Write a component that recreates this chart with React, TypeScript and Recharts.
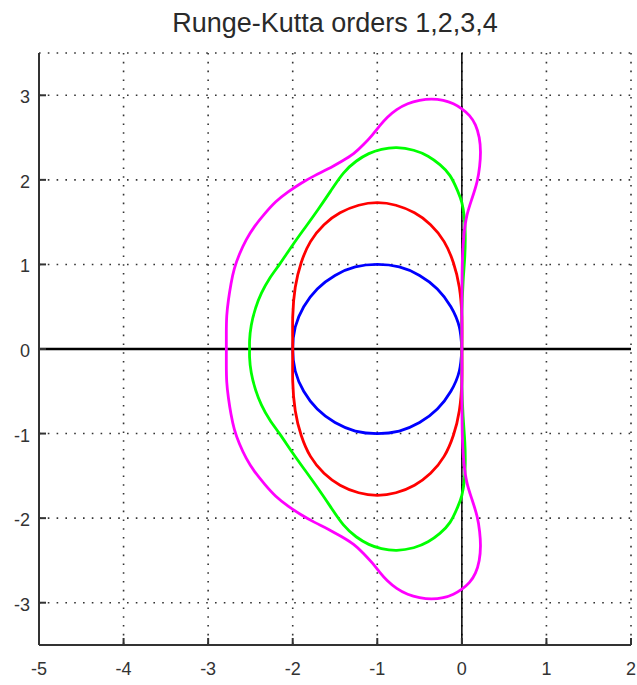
import { LineChart, Line, XAxis, YAxis, CartesianGrid, ReferenceLine } from "recharts";

const TITLE = "Runge-Kutta orders 1,2,3,4";

const X_TICKS = [-5, -4, -3, -2, -1, 0, 1, 2];
const Y_TICKS = [-3, -2, -1, 0, 1, 2, 3];

const ORDER1: [number, number][] = [
  [0, 0], [-0.03, 0.26], [-0.13, 0.5], [-0.29, 0.71], [-0.5, 0.87], [-0.74, 0.97], [-1, 1],
  [-1.26, 0.97], [-1.5, 0.87], [-1.71, 0.71], [-1.87, 0.5], [-1.97, 0.26], [-2, 0],
  [-1.97, -0.26], [-1.87, -0.5], [-1.71, -0.71], [-1.5, -0.87], [-1.26, -0.97], [-1, -1],
  [-0.74, -0.97], [-0.5, -0.87], [-0.29, -0.71], [-0.13, -0.5], [-0.03, -0.26], [0, 0],
];

const ORDER2: [number, number][] = [
  [0, 0], [0, 0.38], [-0.03, 0.73], [-0.1, 1.02], [-0.21, 1.27], [-0.37, 1.47], [-0.56, 1.61],
  [-0.78, 1.7], [-1, 1.73], [-1.22, 1.7], [-1.44, 1.61], [-1.63, 1.47], [-1.79, 1.27],
  [-1.9, 1.02], [-1.97, 0.73], [-2, 0.38], [-2, 0], [-2, -0.38], [-1.97, -0.73], [-1.9, -1.02],
  [-1.79, -1.27], [-1.63, -1.47], [-1.44, -1.61], [-1.22, -1.7], [-1, -1.73], [-0.78, -1.7],
  [-0.56, -1.61], [-0.37, -1.47], [-0.21, -1.27], [-0.1, -1.02], [-0.03, -0.73], [0, -0.38], [0, 0],
];

const ORDER3: [number, number][] = [
  [0, 0], [0, 0.4], [0.015, 0.8], [0.035, 1.1], [0.04, 1.35], [0.03, 1.55], [0, 1.73],
  [-0.05, 1.87], [-0.14, 2.05], [-0.26, 2.18], [-0.4, 2.28], [-0.57, 2.35], [-0.77, 2.38],
  [-0.95, 2.36], [-1.1, 2.31], [-1.25, 2.22], [-1.4, 2.08], [-1.55, 1.87], [-1.7, 1.65],
  [-1.85, 1.44], [-2, 1.23], [-2.15, 1.01], [-2.27, 0.84], [-2.37, 0.66], [-2.44, 0.48],
  [-2.49, 0.28], [-2.51, 0.1], [-2.51, 0],
  [-2.51, -0.1], [-2.49, -0.28], [-2.44, -0.48], [-2.37, -0.66], [-2.27, -0.84], [-2.15, -1.01],
  [-2, -1.23], [-1.85, -1.44], [-1.7, -1.65], [-1.55, -1.87], [-1.4, -2.08], [-1.25, -2.22],
  [-1.1, -2.31], [-0.95, -2.36], [-0.77, -2.38], [-0.57, -2.35], [-0.4, -2.28], [-0.26, -2.18],
  [-0.14, -2.05], [-0.05, -1.87], [0, -1.73], [0.03, -1.55], [0.04, -1.35], [0.035, -1.1],
  [0.015, -0.8], [0, -0.4], [0, 0],
];

const ORDER4: [number, number][] = [
  [0, 0], [0, 0.4], [0.002, 0.8], [0.008, 1.1], [0.025, 1.35], [0.06, 1.58], [0.12, 1.78],
  [0.18, 1.98], [0.21, 2.16], [0.22, 2.33], [0.205, 2.5], [0.16, 2.65], [0.09, 2.76], [0, 2.84],
  [-0.1, 2.9], [-0.22, 2.94], [-0.36, 2.955], [-0.5, 2.94], [-0.64, 2.9], [-0.77, 2.83],
  [-0.88, 2.74], [-0.97, 2.64], [-1.06, 2.53], [-1.16, 2.42], [-1.28, 2.31], [-1.42, 2.22],
  [-1.58, 2.13], [-1.74, 2.05], [-1.9, 1.96], [-2.05, 1.86], [-2.2, 1.74], [-2.33, 1.6],
  [-2.45, 1.45], [-2.55, 1.29], [-2.63, 1.12], [-2.69, 0.95], [-2.73, 0.77], [-2.76, 0.58],
  [-2.78, 0.39], [-2.785, 0.19], [-2.785, 0],
  [-2.785, -0.19], [-2.78, -0.39], [-2.76, -0.58], [-2.73, -0.77], [-2.69, -0.95], [-2.63, -1.12],
  [-2.55, -1.29], [-2.45, -1.45], [-2.33, -1.6], [-2.2, -1.74], [-2.05, -1.86], [-1.9, -1.96],
  [-1.74, -2.05], [-1.58, -2.13], [-1.42, -2.22], [-1.28, -2.31], [-1.16, -2.42], [-1.06, -2.53],
  [-0.97, -2.64], [-0.88, -2.74], [-0.77, -2.83], [-0.64, -2.9], [-0.5, -2.94], [-0.36, -2.955],
  [-0.22, -2.94], [-0.1, -2.9], [0, -2.84], [0.09, -2.76], [0.16, -2.65], [0.205, -2.5],
  [0.22, -2.33], [0.21, -2.16], [0.18, -1.98], [0.12, -1.78], [0.06, -1.58], [0.025, -1.35],
  [0.008, -1.1], [0.002, -0.8], [0, -0.4], [0, 0],
];

const SERIES = [
  { name: "order 1", pts: ORDER1, color: "#0000ff" },
  { name: "order 2", pts: ORDER2, color: "#ff0000" },
  { name: "order 3", pts: ORDER3, color: "#00ff00" },
  { name: "order 4", pts: ORDER4, color: "#ff00ff" },
];

const INK = "#333";
const FONT = "'Liberation Sans', Arial, sans-serif";

const BottomTick = ({ x, y, payload }: any) => (
  <g>
    <line x1={x} y1={y} x2={x} y2={y - 7} stroke={INK} strokeWidth={2} />
    <text x={x} y={y + 24} textAnchor="middle" dominantBaseline="central" fontSize={18} fontFamily={FONT} fill={INK}>
      {payload.value}
    </text>
  </g>
);

const TopTick = ({ x, y }: any) => (
  <line x1={x} y1={y} x2={x} y2={y + 7} stroke={INK} strokeWidth={2} />
);

const LeftTick = ({ x, y, payload }: any) => (
  <g>
    <line x1={x} y1={y} x2={x + 7} y2={y} stroke={INK} strokeWidth={2} />
    <text x={x - 9} y={y + 2} textAnchor="end" dominantBaseline="central" fontSize={18} fontFamily={FONT} fill={INK}>
      {payload.value}
    </text>
  </g>
);

const RightTick = ({ x, y }: any) => (
  <line x1={x} y1={y} x2={x - 7} y2={y} stroke={INK} strokeWidth={2} />
);

export default function App() {
  return (
    <div style={{ position: "absolute", left: 0, top: 0, width: 637, height: 685, background: "#fff" }}>
      <svg width={637} height={45} style={{ position: "absolute", left: 0, top: 0 }}>
        <text x={335} y={31.5} textAnchor="middle" fontSize={27} fontFamily={FONT} fill="#2a2a2a">
          {TITLE}
        </text>
      </svg>
      <LineChart width={637} height={685} margin={{ top: 53, right: 6, bottom: 0, left: 0 }}>
        <CartesianGrid stroke={INK} strokeWidth={1.6} strokeDasharray="1.6 7.2" />
        <XAxis
          type="number"
          dataKey="x"
          domain={[-5, 2]}
          ticks={X_TICKS}
          allowDataOverflow
          height={40}
          tickSize={0}
          tickMargin={0}
          tickLine={false}
          tick={<BottomTick />}
          axisLine={{ stroke: INK, strokeWidth: 2 }}
          interval={0}
        />
        <XAxis
          xAxisId="top"
          orientation="top"
          type="number"
          dataKey="x"
          domain={[-5, 2]}
          ticks={X_TICKS}
          allowDataOverflow
          height={0}
          tickSize={0}
          tickMargin={0}
          tickLine={false}
          tick={<TopTick />}
          axisLine={{ stroke: INK, strokeWidth: 2 }}
          interval={0}
        />
        <YAxis
          type="number"
          dataKey="y"
          domain={[-3.5, 3.5]}
          ticks={Y_TICKS}
          allowDataOverflow
          width={39}
          tickSize={0}
          tickMargin={0}
          tickLine={false}
          tick={<LeftTick />}
          axisLine={{ stroke: INK, strokeWidth: 2 }}
          interval={0}
        />
        <YAxis
          yAxisId="right"
          orientation="right"
          type="number"
          dataKey="y"
          domain={[-3.5, 3.5]}
          ticks={Y_TICKS}
          allowDataOverflow
          width={0}
          tickSize={0}
          tickMargin={0}
          tickLine={false}
          tick={<RightTick />}
          axisLine={{ stroke: INK, strokeWidth: 2 }}
          interval={0}
        />
        <ReferenceLine x={0} stroke="#000" strokeWidth={1.5} />
        <ReferenceLine y={0} stroke="#000" strokeWidth={2.5} />
        {SERIES.map((s) => (
          <Line
            key={s.name}
            name={s.name}
            data={s.pts.map(([x, y]) => ({ x, y }))}
            dataKey="y"
            type="natural"
            stroke={s.color}
            strokeWidth={2.8}
            dot={false}
            activeDot={false}
            isAnimationActive={false}
          />
        ))}
      </LineChart>
    </div>
  );
}
